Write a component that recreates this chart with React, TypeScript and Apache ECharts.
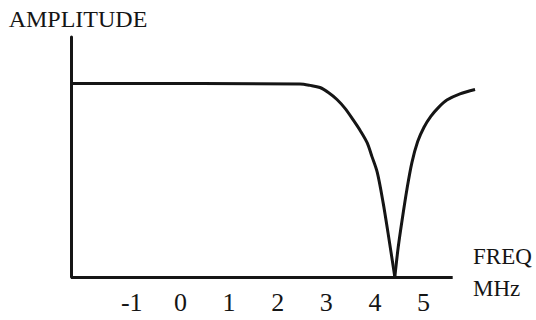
import React, { useEffect, useRef } from "react";
import * as echarts from "echarts";

// Frequency response of the trap filter (amplitude normalised to the flat passband)
const leftFreq = [-2.25, 2.46, 2.67, 2.87, 3.05, 3.22, 3.39, 3.55, 3.7, 3.84, 3.94, 4.05, 4.17, 4.27, 4.41];
const leftAmp = [1.0, 0.997, 0.99, 0.979, 0.952, 0.917, 0.87, 0.813, 0.756, 0.694, 0.622, 0.539, 0.383, 0.228, 0.0];
const rightFreq = [4.41, 4.48, 4.56, 4.66, 4.76, 4.88, 5.01, 5.15, 5.3, 5.48, 5.75, 6.06];
const rightAmp = [0.0, 0.155, 0.295, 0.455, 0.59, 0.7, 0.774, 0.83, 0.874, 0.914, 0.946, 0.969];

const tickValues = [-1, 0, 1, 2, 3, 4, 5];
const freqMin = -2.25;
const freqMax = 6.1;
const freqAxisEnd = 5.6;
const ampMax = 1.24;

const FONT = "'Liberation Serif', 'DejaVu Serif', serif";
const INK = "#151515";

function pairs(xs: number[], ys: number[]) {
  return xs.map((x, i) => [x, ys[i]]);
}

export default function App() {
  const ref = useRef<HTMLDivElement>(null);

  useEffect(() => {
    if (!ref.current) return;
    const chart = echarts.init(ref.current, null, { renderer: "svg" });
    const curveStyle = { color: INK, width: 3 };
    chart.setOption({
      animation: false,
      backgroundColor: "#ffffff",
      grid: {
        left: 71,
        top: 37,
        width: 406,
        height: 240,
        containLabel: false,
        outerBoundsMode: "none",
      },
      graphic: [
        {
          type: "text",
          left: 473,
          top: 240,
          silent: true,
          style: {
            text: "FREQ\nMHz",
            fontFamily: FONT,
            fontSize: 23,
            lineHeight: 32,
            fill: INK,
          },
        },
      ],
      xAxis: {
        type: "value",
        min: freqMin,
        max: freqMax,
        axisLine: { show: false },
        axisTick: { show: false },
        splitLine: { show: false },
        axisLabel: {
          customValues: tickValues,
          fontFamily: FONT,
          fontSize: 26,
          color: INK,
          margin: 12,
        },
      },
      yAxis: {
        type: "value",
        min: 0,
        max: ampMax,
        name: "AMPLITUDE",
        nameLocation: "end",
        nameGap: 6,
        nameTextStyle: {
          fontFamily: FONT,
          fontSize: 24,
          color: INK,
          padding: [0, 0, 0, 14],
        },
        axisLine: { show: true, onZero: false, lineStyle: { color: INK, width: 3 } },
        axisTick: { show: false },
        axisLabel: { show: false },
        splitLine: { show: false },
      },
      series: [
        {
          type: "line",
          data: pairs(leftFreq, leftAmp),
          smooth: 0.3,
          showSymbol: false,
          lineStyle: curveStyle,
          markLine: {
            silent: true,
            symbol: "none",
            label: { show: false },
            lineStyle: { color: INK, width: 3, type: "solid" },
            data: [[{ coord: [freqMin, 0] }, { coord: [freqAxisEnd, 0] }]],
          },
        },
        {
          type: "line",
          data: pairs(rightFreq, rightAmp),
          smooth: 0.3,
          showSymbol: false,
          lineStyle: curveStyle,
        },
      ],
    });
    return () => chart.dispose();
  }, []);

  return <div ref={ref} style={{ width: 536, height: 320, position: "absolute", left: 0, top: 0 }} />;
}
